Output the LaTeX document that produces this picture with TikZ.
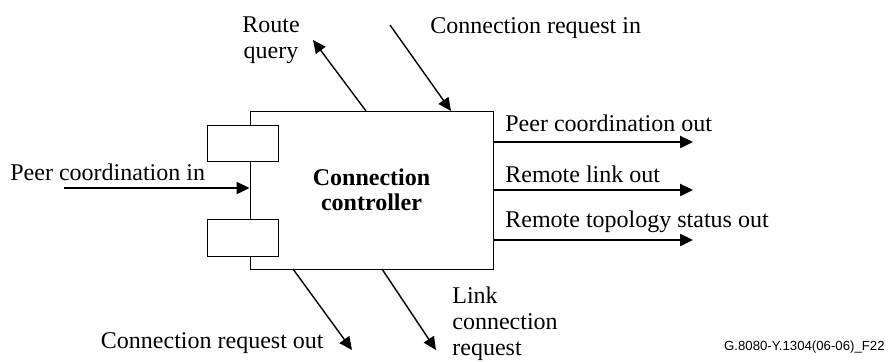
\documentclass[tikz,border=0pt]{standalone}
\usepackage{fontspec}
\setmainfont{Liberation Serif}
\setsansfont{Liberation Sans}
\usetikzlibrary{arrows.meta}

\begin{document}
\begin{tikzpicture}[x=0.5pt, y=-0.5pt, >={Triangle[length=6.5pt,width=6pt]}, font=\fontsize{12}{13}\selectfont]
		\useasboundingbox (0,0) rectangle (889,361);

		\node[rectangle, draw=black, line width=0.5pt, minimum width=121.5pt, minimum height=79pt, align=center, font=\fontsize{12}{12.5}\selectfont\bfseries](ctrl) at (371.5,190){Connection\\controller};
		\node[rectangle, draw=black, fill=white, line width=0.5pt, minimum width=35.5pt, minimum height=18pt](portTop) at (242.5,143){};
		\node[rectangle, draw=black, fill=white, line width=0.5pt, minimum width=35.5pt, minimum height=18.5pt](portBot) at (242.5,237.5){};

		\coordinate (pcInStart) at (64,188);
		\coordinate (pcOutEnd) at (693,142);
		\coordinate (rlOutEnd) at (693,190);
		\coordinate (rtOutEnd) at (693,240);
		\coordinate (rqStart) at (366,111);
		\coordinate (rqEnd) at (313,40);
		\coordinate (criStart) at (390,25);
		\coordinate (criEnd) at (451,111);
		\coordinate (croStart) at (293,269);
		\coordinate (croEnd) at (352,350);
		\coordinate (lcrStart) at (382,269);
		\coordinate (lcrEnd) at (436,350);

		% draw labels
		\node[inner sep=0pt, anchor=base west](pcInLbl) at (10,180){Peer coordination in};
		\node[inner sep=0pt, anchor=base west](pcOutLbl) at (505,131){Peer coordination out};
		\node[inner sep=0pt, anchor=base west](rlOutLbl) at (505,182){Remote link out};
		\node[inner sep=0pt, anchor=base west](rtOutLbl) at (505,227){Remote topology status out};
		\node[inner sep=0pt, align=center, anchor=base](rqLbl) at (271,58){Route\\query};
		\node[inner sep=0pt, anchor=base west](criLbl) at (430,33){Connection request in};
		\node[inner sep=0pt, anchor=base east](croLbl) at (324,348){Connection request out};
		\node[inner sep=0pt, align=left, anchor=base west](lcrLbl) at (452,355){Link\\connection\\request};
		\node[inner sep=0pt, anchor=base east, font=\sffamily\fontsize{6.6}{8}\selectfont](figLbl) at (885,350){G.8080-Y.1304(06-06)\_F22};

		% draw horizontal flows
		\draw[->, line width=1.2pt] (pcInStart) -- (pcInStart -| ctrl.west);
		\draw[->, line width=1.2pt] (pcOutEnd -| ctrl.east) -- (pcOutEnd);
		\draw[->, line width=1.2pt] (rlOutEnd -| ctrl.east) -- (rlOutEnd);
		\draw[->, line width=1.2pt] (rtOutEnd -| ctrl.east) -- (rtOutEnd);

		% draw request flows
		\draw[->, line width=0.7pt] (rqStart) -- (rqEnd);
		\draw[->, line width=0.7pt] (criStart) -- (criEnd);
		\draw[->, line width=0.7pt] (croStart) -- (croEnd);
		\draw[->, line width=0.7pt] (lcrStart) -- (lcrEnd);
	\end{tikzpicture}
\end{document}
